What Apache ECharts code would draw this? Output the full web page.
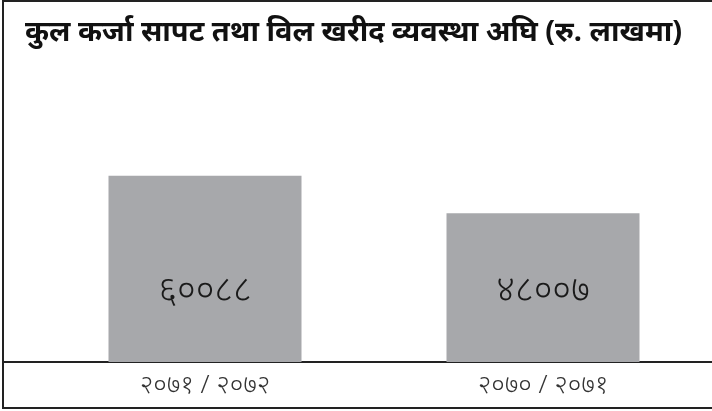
<!DOCTYPE html>
<html>
<head>
<meta charset="utf-8">
<script src="https://cdn.jsdelivr.net/npm/echarts@6/dist/echarts.min.js"></script>
<style>
  html, body { margin: 0; padding: 0; background: #fff; }
  #chart { width: 712px; height: 411px; }
</style>
</head>
<body>
<div id="chart"></div>
<script>
// 数据
const titleText = 'कुल कर्जा सापट तथा विल खरीद व्यवस्था अघि (रु. लाखमा)'
const categories = ['२०७१ / २०७२', '२०७० / २०७१']
const values = [60088, 48007]
const valueLabels = ['६००८८', '४८००७']

const chart = echarts.init(document.getElementById('chart'))

chart.setOption({
  animation: false,
  title: {
    text: titleText,
    left: 20,
    top: 13,
    textStyle: {
      fontSize: 29,
      fontWeight: 'bold',
      color: '#111',
      fontFamily: 'Noto Sans, sans-serif',
    },
  },
  // 外框 + 分隔线
  graphic: [
    {
      type: 'rect',
      shape: { x: 3, y: 1, width: 712, height: 407 },
      style: { fill: 'none', stroke: '#222', lineWidth: 2 },
      silent: true,
    },
    {
      type: 'line',
      shape: { x1: 3, y1: 362, x2: 712, y2: 362 },
      style: { stroke: '#222', lineWidth: 2 },
      silent: true,
    },
  ],
  grid: { left: 36, top: 83, width: 684, height: 279 },
  xAxis: {
    type: 'category',
    data: categories,
    axisLine: { show: false },
    axisTick: { show: false },
    axisLabel: {
      margin: 11,
      fontSize: 26,
      fontWeight: 300,
      color: '#333',
      fontFamily: 'Noto Sans, sans-serif',
    },
  },
  yAxis: {
    type: 'value',
    min: 0,
    max: 90000,
    show: false,
  },
  series: [
    {
      type: 'bar',
      data: values,
      barWidth: 193,
      itemStyle: { color: '#a7a8ab' },
      label: {
        show: true,
        position: 'insideBottom',
        distance: 52,
        formatter: (p) => valueLabels[p.dataIndex],
        fontSize: 36,
        fontWeight: 300,
        color: '#1a1a1a',
        fontFamily: 'Noto Sans, sans-serif',
      },
    },
  ],
})
</script>
</body>
</html>
